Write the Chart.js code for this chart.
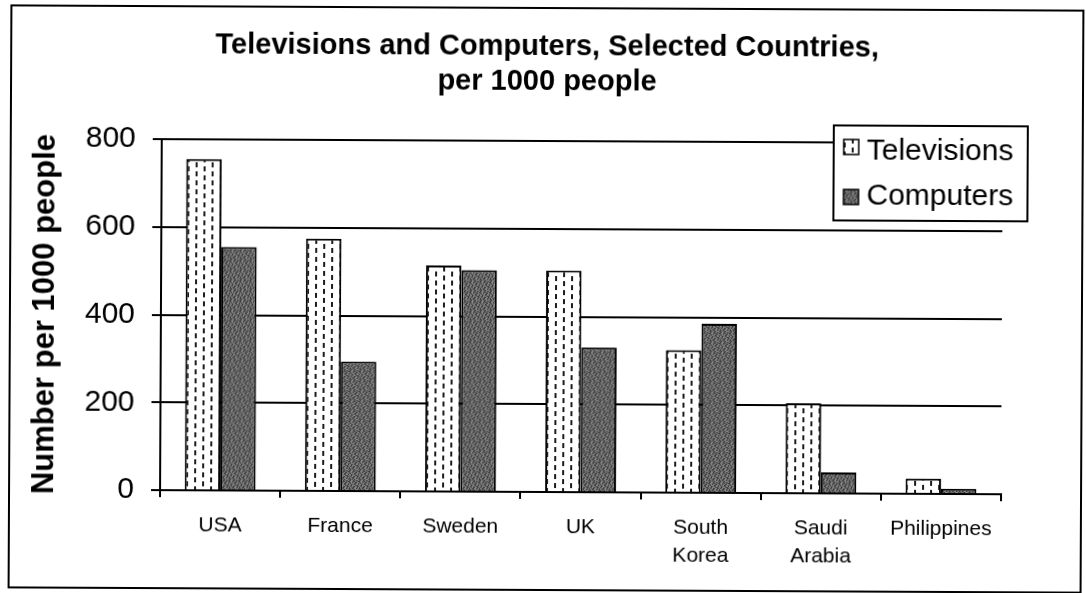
<!DOCTYPE html>
<html>
<head>
<meta charset="utf-8">
<script src="https://cdn.jsdelivr.net/npm/chart.js@4.4.1/dist/chart.umd.min.js"></script>
<style>
  html, body { margin: 0; padding: 0; background: #fff; overflow: hidden; }
  #wrap { width: 1086px; height: 593px; position: relative; background: #fff; }
  #c { transform: translateY(1px) rotate(0.28deg); transform-origin: 50% 50%; }
</style>
</head>
<body>
<div id="wrap"><canvas id="c" width="1086" height="593"></canvas></div>
<script>
// ---- data ----
const countries = ['USA', 'France', 'Sweden', 'UK', ['South', 'Korea'], ['Saudi', 'Arabia'], 'Philippines'];
const televisions = [755, 575, 515, 505, 325, 205, 35];
const computers = [555, 295, 505, 330, 385, 48, 12];
const seriesNames = ['Televisions', 'Computers'];
const titleLines = ['Televisions and Computers, Selected Countries,', 'per 1000 people'];
const yAxisTitle = 'Number per 1000 people';
const yTickValues = [0, 200, 400, 600, 800];

const FONT = "'Liberation Sans', Arial, sans-serif";

// dotted-dash fill for the television bars
function makeTvPattern() {
  const c = document.createElement('canvas');
  c.width = 16; c.height = 18;
  const g = c.getContext('2d');
  g.fillStyle = '#ffffff';
  g.fillRect(0, 0, 16, 18);
  g.fillStyle = '#1c1c1c';
  g.fillRect(3, 1, 2, 5);
  g.fillRect(3, 10, 2, 5);
  g.fillRect(11, 5, 2, 5);
  g.fillRect(11, 14, 2, 4);
  g.fillRect(11, 0, 2, 1);
  return g.createPattern(c, 'repeat');
}

// speckled grey fill for the computer bars
function makePcPattern() {
  const n = 10;
  const c = document.createElement('canvas');
  c.width = n; c.height = n;
  const g = c.getContext('2d');
  const shades = ['#444444', '#646464', '#808080', '#525252', '#727272', '#363636', '#8a8a8a'];
  for (let y = 0; y < n; y++) {
    for (let x = 0; x < n; x++) {
      g.fillStyle = shades[(x * 3 + y * 5 + ((x * y) % 4)) % shades.length];
      g.fillRect(x, y, 1, 1);
    }
  }
  return g.createPattern(c, 'repeat');
}

const tvFill = makeTvPattern();
const pcFill = makePcPattern();

// outer frame + white page
const framePlugin = {
  id: 'frame',
  beforeDraw(chart) {
    const ctx = chart.ctx;
    ctx.save();
    ctx.fillStyle = '#ffffff';
    ctx.fillRect(0, 0, chart.width, chart.height);
    ctx.strokeStyle = '#000';
    ctx.lineWidth = 2;
    ctx.strokeRect(10, 7, 1072, 582);
    ctx.restore();
  }
};

// two-line heading, each line centred
const headingPlugin = {
  id: 'heading',
  afterDraw(chart) {
    const ctx = chart.ctx;
    ctx.save();
    ctx.fillStyle = '#000';
    ctx.font = 'bold 29px ' + FONT;
    ctx.textAlign = 'center';
    ctx.textBaseline = 'alphabetic';
    const baselines = [54, 89];
    titleLines.forEach((t, i) => ctx.fillText(t, 546, baselines[i]));
    ctx.restore();
  }
};

// boxed key in the upper right of the plot
const keyPlugin = {
  id: 'key',
  afterDraw(chart) {
    const ctx = chart.ctx;
    const bx = 833, by = 123, bw = 194, bh = 95;
    ctx.save();
    ctx.fillStyle = '#fff';
    ctx.fillRect(bx, by, bw, bh);
    ctx.strokeStyle = '#000';
    ctx.lineWidth = 2;
    ctx.strokeRect(bx, by, bw, bh);
    ctx.font = '30px ' + FONT;
    ctx.textBaseline = 'alphabetic';
    ctx.textAlign = 'left';
    const rows = [137, 187];
    const baselines = [157, 202];
    chart.data.datasets.forEach((ds, i) => {
      ctx.fillStyle = ds.backgroundColor;
      ctx.fillRect(843, rows[i], 15, 15);
      ctx.lineWidth = 1.5;
      ctx.strokeStyle = '#000';
      ctx.strokeRect(843, rows[i], 15, 15);
      ctx.fillStyle = '#000';
      ctx.fillText(ds.label, 866, baselines[i]);
    });
    ctx.restore();
  }
};

new Chart(document.getElementById('c'), {
  type: 'bar',
  data: {
    labels: countries,
    datasets: [
      {
        label: seriesNames[0],
        data: televisions,
        backgroundColor: tvFill,
        borderColor: '#000',
        borderWidth: 2,
        categoryPercentage: 0.59,
        barPercentage: 1.0
      },
      {
        label: seriesNames[1],
        data: computers,
        backgroundColor: pcFill,
        borderColor: '#000',
        borderWidth: 2,
        categoryPercentage: 0.59,
        barPercentage: 1.0
      }
    ]
  },
  options: {
    responsive: false,
    animation: false,
    devicePixelRatio: 1,
    layout: { padding: { left: 0, top: 140, right: 84, bottom: 0 } },
    plugins: {
      legend: { display: false },
      title: { display: false },
      tooltip: { enabled: false }
    },
    scales: {
      x: {
        afterFit(scale) { scale.height = 102; },
        grid: {
          display: true,
          drawOnChartArea: false,
          drawTicks: true,
          tickLength: 7,
          color: '#000',
          lineWidth: 2
        },
        border: { display: true, color: '#000', width: 2 },
        ticks: {
          color: '#000',
          font: { family: FONT, size: 21, lineHeight: 1.3 },
          padding: 15,
          maxRotation: 0,
          autoSkip: false
        }
      },
      y: {
        min: 0,
        max: 800,
        afterFit(scale) { scale.width = 161; },
        afterBuildTicks(scale) { scale.ticks = yTickValues.map(v => ({ value: v })); },
        grid: {
          color: '#000',
          lineWidth: 2,
          drawTicks: true,
          tickLength: 9
        },
        border: { display: true, color: '#000', width: 2 },
        ticks: {
          color: '#000',
          font: { family: FONT, size: 30 },
          padding: 17
        },
        title: {
          display: true,
          text: yAxisTitle,
          color: '#000',
          font: { family: FONT, size: 31, weight: 'bold', lineHeight: 1.2 },
          padding: { top: 27, bottom: 0 }
        }
      }
    }
  },
  plugins: [framePlugin, headingPlugin, keyPlugin]
});
</script>
</body>
</html>
